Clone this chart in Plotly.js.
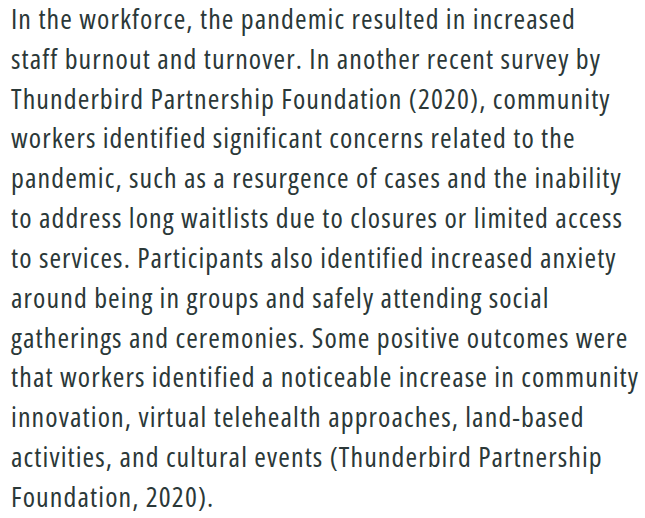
<!DOCTYPE html>
<html>
<head>
<meta charset="utf-8">
<script src="https://cdn.plot.ly/plotly-3.0.1.min.js"></script>
<style>
html,body{margin:0;padding:0;background:#fff;}
#chart{width:645px;height:518px;}
#chart .textpoint text{font-stretch:75% !important;letter-spacing:1.1px;}
</style>
</head>
<body>
<div id="chart"></div>
<script>
var lines = [
  "In the workforce, the pandemic resulted in increased",
  "staff burnout and turnover. In another recent survey by",
  "Thunderbird Partnership Foundation (2020), community",
  "workers identified significant concerns related to the",
  "pandemic, such as a resurgence of cases and the inability",
  "to address long waitlists due to closures or limited access",
  "to services. Participants also identified increased anxiety",
  "around being in groups and safely attending social",
  "gatherings and ceremonies. Some positive outcomes were",
  "that workers identified a noticeable increase in community",
  "innovation, virtual telehealth approaches, land-based",
  "activities, and cultural events (Thunderbird Partnership",
  "Foundation, 2020)."
];
var lineIndex = lines.map(function(_, i){ return i; });
var lineX = lines.map(function(){ return 0; });

var trace = {
  type: "scatter",
  mode: "text",
  x: lineX,
  y: lineIndex,
  text: lines,
  textposition: "middle right",
  textfont: {family: "Open Sans", size: 28, weight: 400, color: "#2b3838"},
  hoverinfo: "skip",
  showlegend: false
};

var layout = {
  width: 645, height: 518,
  margin: {l: 0, r: 0, t: 0, b: 0},
  paper_bgcolor: "#ffffff",
  plot_bgcolor: "#ffffff",
  xaxis: {range: [-11, 634], visible: false, fixedrange: true},
  yaxis: {range: [12.453, -0.552], visible: false, fixedrange: true},
  showlegend: false
};

Plotly.newPlot("chart", [trace], layout, {displayModeBar: false, staticPlot: true});
</script>
</body>
</html>
